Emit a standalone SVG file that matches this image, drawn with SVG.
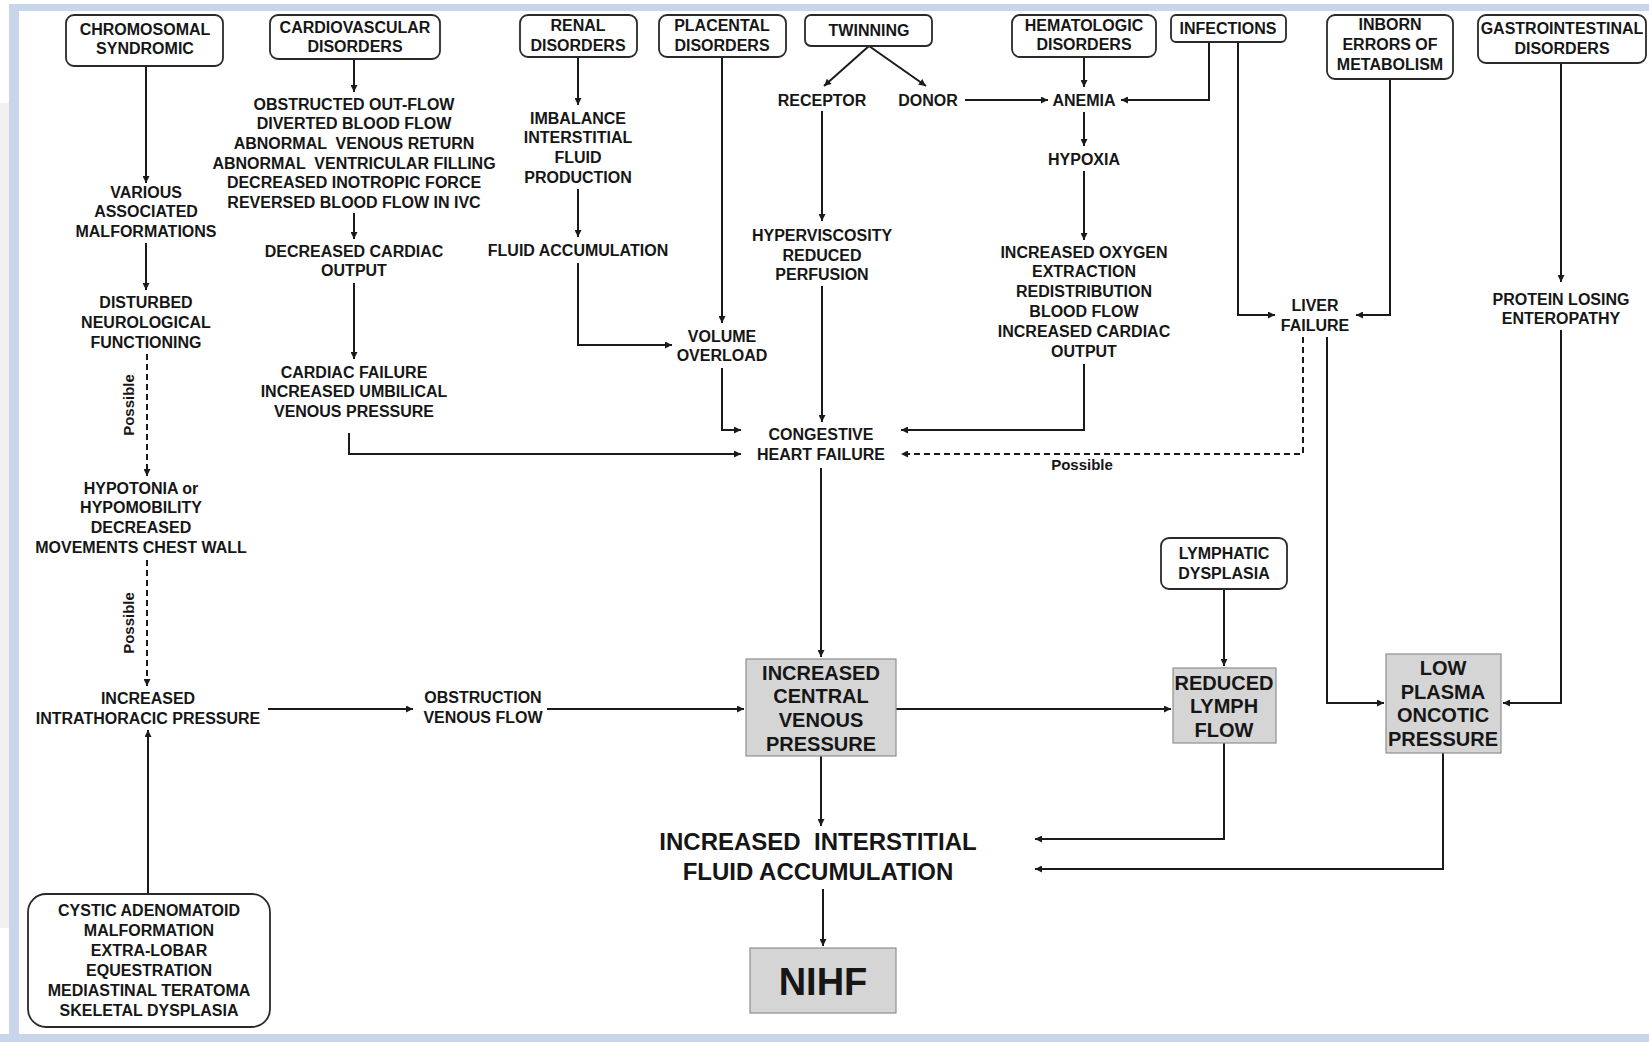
<svg xmlns="http://www.w3.org/2000/svg" width="1649" height="1042" viewBox="0 0 1649 1042">
<defs>
<marker id="ah" viewBox="0 0 10 10" refX="10" refY="5" markerWidth="8" markerHeight="7" markerUnits="userSpaceOnUse" orient="auto">
<path d="M0,0 L10,5 L0,10 z" fill="#1a1a1a"/>
</marker>
<style>
text{font-family:"Liberation Sans",Arial,sans-serif;font-weight:bold;fill:#161616;text-anchor:middle}
.t{font-size:16px}
.m{font-size:20px}
.l{font-size:24px}
.p{font-size:15px}
.pre{white-space:pre}
.rb{fill:#fff;stroke:#2a2a2a;stroke-width:1.8}
.gb{fill:#d5d5d5;stroke:#8f8f8f;stroke-width:1.2}
.c{fill:none;stroke:#1a1a1a;stroke-width:2}
.a{marker-end:url(#ah)}
.d{stroke-dasharray:6 4}
</style>
</defs>
<rect x="0" y="0" width="1649" height="1042" fill="#fff"/>
<rect x="0" y="103" width="9" height="825" fill="#f0f0f0"/>
<rect x="9" y="4" width="1640" height="7" fill="#c8d5ea"/>
<rect x="9" y="4" width="10" height="1038" fill="#c8d5ea"/>
<rect x="0" y="1034" width="1649" height="8" fill="#c8d5ea"/>

<g id="connectors">
<path class="c a" d="M146 66 V183"/>
<path class="c a" d="M146 243 V290"/>
<path class="c a d" d="M147 354 V476"/>
<path class="c a d" d="M147 560 V686"/>
<path class="c a" d="M148 894 V730"/>
<path class="c a" d="M268 709 H413"/>
<path class="c a" d="M547 709 H744"/>
<path class="c a" d="M354 59 V92"/>
<path class="c a" d="M354 213 V239"/>
<path class="c a" d="M354 283 V359"/>
<path class="c a" d="M349 433 V454 H741"/>
<path class="c a" d="M578 57 V105"/>
<path class="c a" d="M578 189 V237"/>
<path class="c a" d="M578 263 V345 H672"/>
<path class="c a" d="M722 57 V323"/>
<path class="c a" d="M722 368 V430 H741"/>
<path class="c a" d="M869 46 L824 86"/>
<path class="c a" d="M869 46 L926 86"/>
<path class="c a" d="M965 100 H1048"/>
<path class="c a" d="M822 111 V221"/>
<path class="c a" d="M822 286 V422"/>
<path class="c a" d="M1084 57 V87"/>
<path class="c a" d="M1209 42 V100 H1121"/>
<path class="c a" d="M1238 42 V315 H1275"/>
<path class="c a" d="M1084 112 V146"/>
<path class="c a" d="M1084 171 V240"/>
<path class="c a" d="M1084 364 V430 H901"/>
<path class="c a" d="M1390 79 V315 H1356"/>
<path class="c a d" d="M1303 337 V454 H901"/>
<path class="c a" d="M1327 337 V703 H1384"/>
<path class="c a" d="M1561 63 V282"/>
<path class="c a" d="M1561 330 V703 H1503"/>
<path class="c a" d="M821 468 V657"/>
<path class="c a" d="M896 709 H1171"/>
<path class="c a" d="M1224 589 V666"/>
<path class="c a" d="M1224 743 V839 H1035"/>
<path class="c a" d="M1443 753 V869 H1035"/>
<path class="c a" d="M821 756 V826"/>
<path class="c a" d="M823 889 V946"/>
<text class="p" transform="translate(134 405) rotate(-90)">Possible</text>
<text class="p" transform="translate(134 623) rotate(-90)">Possible</text>
<text class="p" x="1082" y="470">Possible</text>
</g>

<g id="chromosomal"><rect class="rb" x="66" y="15" width="157" height="51" rx="8"/>
<text class="t" x="145" y="35">CHROMOSOMAL</text><text class="t" x="145" y="54">SYNDROMIC</text></g>
<g id="cardiovascular"><rect class="rb" x="270" y="15" width="170" height="44" rx="8"/>
<text class="t" x="355" y="33">CARDIOVASCULAR</text><text class="t" x="355" y="52">DISORDERS</text></g>
<g id="renal"><rect class="rb" x="520" y="15" width="117" height="42" rx="8"/>
<text class="t" x="578" y="31">RENAL</text><text class="t" x="578" y="51">DISORDERS</text></g>
<g id="placental"><rect class="rb" x="659" y="15" width="127" height="42" rx="8"/>
<text class="t" x="722" y="31">PLACENTAL</text><text class="t" x="722" y="51">DISORDERS</text></g>
<g id="twinning"><rect class="rb" x="805" y="15" width="127" height="31" rx="6"/>
<text class="t" x="869" y="36">TWINNING</text></g>
<g id="hematologic"><rect class="rb" x="1012" y="15" width="144" height="42" rx="8"/>
<text class="t" x="1084" y="31">HEMATOLOGIC</text><text class="t" x="1084" y="50">DISORDERS</text></g>
<g id="infections"><rect class="rb" x="1171" y="15" width="115" height="27" rx="5"/>
<text class="t" x="1228" y="34">INFECTIONS</text></g>
<g id="inborn"><rect class="rb" x="1327" y="15" width="126" height="64" rx="8"/>
<text class="t" x="1390" y="30">INBORN</text><text class="t" x="1390" y="50">ERRORS OF</text><text class="t" x="1390" y="70">METABOLISM</text></g>
<g id="gastro"><rect class="rb" x="1478" y="15" width="168" height="48" rx="8"/>
<text class="t" x="1562" y="34">GASTROINTESTINAL</text><text class="t" x="1562" y="54">DISORDERS</text></g>

<g id="various"><text class="t" x="146" y="198">VARIOUS</text><text class="t" x="146" y="217">ASSOCIATED</text><text class="t" x="146" y="237">MALFORMATIONS</text></g>
<g id="disturbed"><text class="t" x="146" y="308">DISTURBED</text><text class="t" x="146" y="328">NEUROLOGICAL</text><text class="t" x="146" y="348">FUNCTIONING</text></g>
<g id="hypotonia"><text class="t" x="141" y="494">HYPOTONIA or</text><text class="t" x="141" y="513">HYPOMOBILITY</text><text class="t" x="141" y="533">DECREASED</text><text class="t" x="141" y="553">MOVEMENTS CHEST WALL</text></g>
<g id="intrathoracic"><text class="t" x="148" y="704">INCREASED</text><text class="t" x="148" y="724">INTRATHORACIC PRESSURE</text></g>
<g id="cystic"><rect class="rb" x="28" y="894" width="242" height="133" rx="18"/>
<text class="t" x="149" y="916">CYSTIC ADENOMATOID</text><text class="t" x="149" y="936">MALFORMATION</text><text class="t" x="149" y="956">EXTRA-LOBAR</text><text class="t" x="149" y="976">EQUESTRATION</text><text class="t" x="149" y="996">MEDIASTINAL TERATOMA</text><text class="t" x="149" y="1016">SKELETAL DYSPLASIA</text></g>
<g id="obstruction"><text class="t" x="483" y="703">OBSTRUCTION</text><text class="t" x="483" y="723">VENOUS FLOW</text></g>
<g id="cardio-list"><text class="t" x="354" y="110">OBSTRUCTED OUT-FLOW</text><text class="t" x="354" y="129">DIVERTED BLOOD FLOW</text><text class="t pre" x="354" y="149">ABNORMAL  VENOUS RETURN</text><text class="t pre" x="354" y="169">ABNORMAL  VENTRICULAR FILLING</text><text class="t" x="354" y="188">DECREASED INOTROPIC FORCE</text><text class="t" x="354" y="208">REVERSED BLOOD FLOW IN IVC</text></g>
<g id="decreased-output"><text class="t" x="354" y="257">DECREASED CARDIAC</text><text class="t" x="354" y="276">OUTPUT</text></g>
<g id="cardiac-failure"><text class="t" x="354" y="378">CARDIAC FAILURE</text><text class="t" x="354" y="397">INCREASED UMBILICAL</text><text class="t" x="354" y="417">VENOUS PRESSURE</text></g>
<g id="imbalance"><text class="t" x="578" y="124">IMBALANCE</text><text class="t" x="578" y="143">INTERSTITIAL</text><text class="t" x="578" y="163">FLUID</text><text class="t" x="578" y="183">PRODUCTION</text></g>
<g id="fluid-accumulation"><text class="t" x="578" y="256">FLUID ACCUMULATION</text></g>
<g id="volume-overload"><text class="t" x="722" y="342">VOLUME</text><text class="t" x="722" y="361">OVERLOAD</text></g>
<g id="receptor"><text class="t" x="822" y="106">RECEPTOR</text></g>
<g id="donor"><text class="t" x="928" y="106">DONOR</text></g>
<g id="hyperviscosity"><text class="t" x="822" y="241">HYPERVISCOSITY</text><text class="t" x="822" y="261">REDUCED</text><text class="t" x="822" y="280">PERFUSION</text></g>
<g id="congestive"><text class="t" x="821" y="440">CONGESTIVE</text><text class="t" x="821" y="460">HEART FAILURE</text></g>
<g id="anemia"><text class="t" x="1084" y="106">ANEMIA</text></g>
<g id="hypoxia"><text class="t" x="1084" y="165">HYPOXIA</text></g>
<g id="oxygen"><text class="t" x="1084" y="258">INCREASED OXYGEN</text><text class="t" x="1084" y="277">EXTRACTION</text><text class="t" x="1084" y="297">REDISTRIBUTION</text><text class="t" x="1084" y="317">BLOOD FLOW</text><text class="t" x="1084" y="337">INCREASED CARDIAC</text><text class="t" x="1084" y="357">OUTPUT</text></g>
<g id="liver"><text class="t" x="1315" y="311">LIVER</text><text class="t" x="1315" y="331">FAILURE</text></g>
<g id="protein"><text class="t" x="1561" y="305">PROTEIN LOSING</text><text class="t" x="1561" y="324">ENTEROPATHY</text></g>
<g id="lymphatic"><rect class="rb" x="1161" y="538" width="126" height="51" rx="8"/>
<text class="t" x="1224" y="559">LYMPHATIC</text><text class="t" x="1224" y="579">DYSPLASIA</text></g>
<g id="reduced-lymph"><rect class="gb" x="1173" y="668" width="103" height="75"/>
<text class="m" x="1224" y="690">REDUCED</text><text class="m" x="1224" y="713">LYMPH</text><text class="m" x="1224" y="737">FLOW</text></g>
<g id="low-plasma"><rect class="gb" x="1386" y="654" width="115" height="99"/>
<text class="m" x="1443" y="675">LOW</text><text class="m" x="1443" y="699">PLASMA</text><text class="m" x="1443" y="722">ONCOTIC</text><text class="m" x="1443" y="746">PRESSURE</text></g>
<g id="icvp"><rect class="gb" x="746" y="659" width="150" height="97"/>
<text class="m" x="821" y="680">INCREASED</text><text class="m" x="821" y="703">CENTRAL</text><text class="m" x="821" y="727">VENOUS</text><text class="m" x="821" y="751">PRESSURE</text></g>
<g id="interstitial"><text class="l pre" x="818" y="850">INCREASED  INTERSTITIAL</text><text class="l" x="818" y="880">FLUID ACCUMULATION</text></g>
<g id="nihf"><rect class="gb" x="750" y="948" width="146" height="65"/>
<text x="823" y="995" style="font-size:38px">NIHF</text></g>
</svg>
